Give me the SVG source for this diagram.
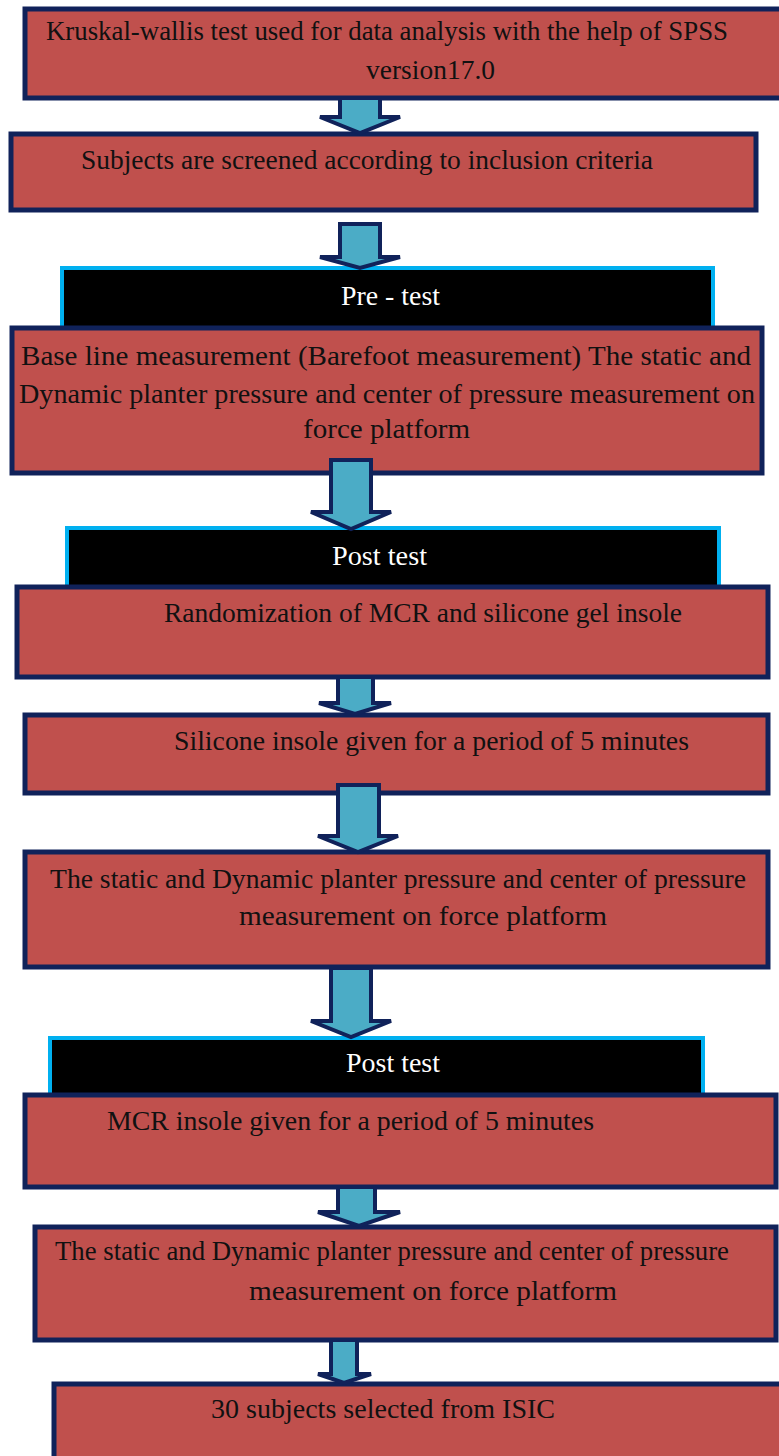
<svg xmlns="http://www.w3.org/2000/svg" width="779" height="1456" viewBox="0 0 779 1456">
<style>
.box{fill:#C0504D;stroke:#10225A;stroke-width:5;stroke-linejoin:miter}
.hdr{fill:#000000}
.cy{fill:none;stroke:#00B0F0;stroke-width:4;stroke-linecap:round}
.arr{fill:#4BACC6;stroke:#10225A;stroke-width:4;stroke-linejoin:miter}
.t{font-family:"Liberation Serif","Times New Roman",serif;font-size:27px;fill:#111111}
.t3{font-family:"Liberation Serif","Times New Roman",serif;font-size:28px;fill:#111111}
.h{font-family:"Liberation Serif","Times New Roman",serif;font-size:27px;fill:#ffffff}
</style>
<rect width="779" height="1456" fill="#ffffff"/>

<g id="n1">
<rect class="box" x="25" y="9" width="765" height="89"/>
<text class="t" x="46" y="40" textLength="682" lengthAdjust="spacingAndGlyphs">Kruskal-wallis test used for data analysis with the help of SPSS</text>
<text class="t" x="366" y="79" textLength="129" lengthAdjust="spacingAndGlyphs">version17.0</text>
</g>

<g id="n2">
<rect class="box" x="11" y="134" width="745" height="76"/>
<text class="t" x="81" y="169" textLength="572" lengthAdjust="spacingAndGlyphs">Subjects are screened according to inclusion criteria</text>
</g>

<g id="h1">
<rect class="hdr" x="62" y="268" width="651" height="58"/>
<path class="cy" d="M62,326 L62,268 L713,268 L713,326"/>
<text class="h" x="341" y="305" textLength="99" lengthAdjust="spacingAndGlyphs">Pre - test</text>
</g>

<g id="n3">
<rect class="box" x="12" y="328" width="750" height="145"/>
<text class="t3" x="21" y="365" textLength="730" lengthAdjust="spacingAndGlyphs">Base line measurement (Barefoot measurement) The static and</text>
<text class="t3" x="19" y="403" textLength="736" lengthAdjust="spacingAndGlyphs">Dynamic planter pressure and center of pressure measurement on</text>
<text class="t3" x="303" y="438" textLength="167" lengthAdjust="spacingAndGlyphs">force platform</text>
</g>

<g id="h2">
<rect class="hdr" x="68" y="528" width="649" height="58"/>
<path class="cy" d="M67,586 L67,528 L719,528 L719,586"/>
<text class="h" x="332" y="565" textLength="95" lengthAdjust="spacingAndGlyphs">Post test</text>
</g>

<g id="n4">
<rect class="box" x="17" y="587" width="751" height="90"/>
<text class="t" x="164" y="622" textLength="518" lengthAdjust="spacingAndGlyphs">Randomization of MCR and silicone gel insole</text>
</g>

<g id="n5">
<rect class="box" x="25" y="715" width="743" height="78"/>
<text class="t" x="174" y="750" textLength="515" lengthAdjust="spacingAndGlyphs">Silicone insole given for a period of 5 minutes</text>
</g>

<g id="n6">
<rect class="box" x="25" y="852" width="743" height="115"/>
<text class="t" x="50" y="888" textLength="696" lengthAdjust="spacingAndGlyphs">The static and Dynamic planter pressure and center of pressure</text>
<text class="t" x="239" y="925" textLength="368" lengthAdjust="spacingAndGlyphs">measurement on force platform</text>
</g>

<g id="h3">
<rect class="hdr" x="50" y="1038" width="652" height="57"/>
<path class="cy" d="M50,1095 L50,1038 L703,1038 L703,1095"/>
<text class="h" x="346" y="1072" textLength="94" lengthAdjust="spacingAndGlyphs">Post test</text>
</g>

<g id="n7">
<rect class="box" x="25" y="1095" width="751" height="92"/>
<text class="t" x="107" y="1130" textLength="487" lengthAdjust="spacingAndGlyphs">MCR insole  given for a period of 5 minutes</text>
</g>

<g id="n8">
<rect class="box" x="35" y="1227" width="741" height="113"/>
<text class="t" x="55" y="1260" textLength="674" lengthAdjust="spacingAndGlyphs">The static and Dynamic planter pressure and center of pressure</text>
<text class="t" x="249" y="1300" textLength="368" lengthAdjust="spacingAndGlyphs">measurement on force platform</text>
</g>

<g id="n9">
<rect class="box" x="54" y="1384" width="740" height="90"/>
<text class="t" x="211" y="1418" textLength="344" lengthAdjust="spacingAndGlyphs">30 subjects selected from ISIC</text>
</g>

<g id="connectors">
<path class="arr" d="M340,98 L380,98 L380,117 L400,117 L360,133 L320,117 L340,117 Z"/>
<path class="arr" d="M340,224 L380,224 L380,257 L400,257 L360,268 L320,257 L340,257 Z"/>
<path class="arr" d="M331,460 L371,460 L371,512 L391,512 L351,529 L311,512 L331,512 Z"/>
<path class="arr" d="M338,677 L373,677 L373,703 L391,703 L355,714 L319,703 L338,703 Z"/>
<path class="arr" d="M338,785 L379,785 L379,836 L398,836 L358,852 L318,836 L338,836 Z"/>
<path class="arr" d="M331,968 L371,968 L371,1021 L391,1021 L351,1037 L311,1021 L331,1021 Z"/>
<path class="arr" d="M338,1187 L375,1187 L375,1212 L400,1212 L359,1226 L318,1212 L338,1212 Z"/>
<path class="arr" d="M331,1340 L357,1340 L357,1374 L371,1374 L344,1383 L318,1374 L331,1374 Z"/>
</g>
</svg>
